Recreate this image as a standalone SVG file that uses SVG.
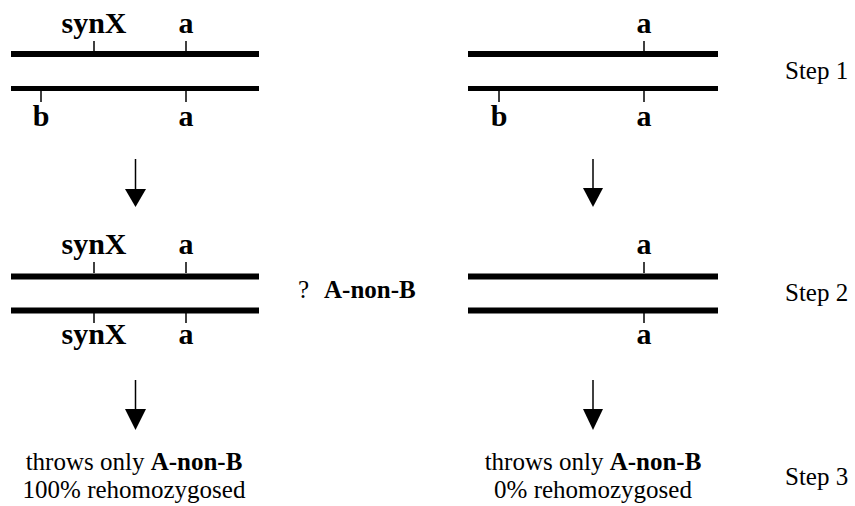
<svg xmlns="http://www.w3.org/2000/svg" width="855" height="506" viewBox="0 0 855 506">
<rect width="855" height="506" fill="#fff"/>
<g id="step1-left">
<g stroke="#000" fill="none">
<line stroke-width="6" x1="11" y1="54" x2="259" y2="54"/>
<line stroke-width="5" x1="11" y1="88.5" x2="259" y2="88.5"/>
<line stroke-width="1.5" x1="94" y1="41" x2="94" y2="51"/>
<line stroke-width="1.5" x1="186" y1="41" x2="186" y2="51"/>
<line stroke-width="1.5" x1="41" y1="91" x2="41" y2="102"/>
<line stroke-width="1.5" x1="186" y1="91" x2="186" y2="102"/>
</g>
<text font-family="Liberation Serif" font-weight="bold" font-size="30" x="94" y="33" text-anchor="middle">synX</text>
<text font-family="Liberation Serif" font-weight="bold" font-size="30" x="186" y="33" text-anchor="middle">a</text>
<text font-family="Liberation Serif" font-weight="bold" font-size="30" x="41" y="126" text-anchor="middle">b</text>
<text font-family="Liberation Serif" font-weight="bold" font-size="30" x="186" y="126" text-anchor="middle">a</text>
</g>
<g id="step1-right">
<g stroke="#000" fill="none">
<line stroke-width="6" x1="468" y1="54" x2="718" y2="54"/>
<line stroke-width="5" x1="468" y1="88.5" x2="718" y2="88.5"/>
<line stroke-width="1.5" x1="644" y1="41" x2="644" y2="51"/>
<line stroke-width="1.5" x1="499" y1="91" x2="499" y2="102"/>
<line stroke-width="1.5" x1="644" y1="91" x2="644" y2="102"/>
</g>
<text font-family="Liberation Serif" font-weight="bold" font-size="30" x="644" y="33" text-anchor="middle">a</text>
<text font-family="Liberation Serif" font-weight="bold" font-size="30" x="499" y="126" text-anchor="middle">b</text>
<text font-family="Liberation Serif" font-weight="bold" font-size="30" x="644" y="126" text-anchor="middle">a</text>
</g>
<g id="step2-left">
<g stroke="#000" fill="none">
<line stroke-width="6" x1="11" y1="276.5" x2="259" y2="276.5"/>
<line stroke-width="6" x1="11" y1="310.5" x2="259" y2="310.5"/>
<line stroke-width="1.5" x1="94" y1="262" x2="94" y2="273"/>
<line stroke-width="1.5" x1="186" y1="262" x2="186" y2="273"/>
<line stroke-width="1.5" x1="94" y1="313" x2="94" y2="323"/>
<line stroke-width="1.5" x1="186" y1="313" x2="186" y2="323"/>
</g>
<text font-family="Liberation Serif" font-weight="bold" font-size="30" x="94" y="254" text-anchor="middle">synX</text>
<text font-family="Liberation Serif" font-weight="bold" font-size="30" x="186" y="254" text-anchor="middle">a</text>
<text font-family="Liberation Serif" font-weight="bold" font-size="30" x="94" y="344" text-anchor="middle">synX</text>
<text font-family="Liberation Serif" font-weight="bold" font-size="30" x="186" y="344" text-anchor="middle">a</text>
</g>
<g id="question">
<text font-family="Liberation Serif" font-size="25" x="298" y="298">?</text>
<text font-family="Liberation Serif" font-weight="bold" font-size="25" x="324" y="298">A-non-B</text>
</g>
<g id="step2-right">
<g stroke="#000" fill="none">
<line stroke-width="6" x1="468" y1="276.5" x2="718" y2="276.5"/>
<line stroke-width="6" x1="468" y1="310.5" x2="718" y2="310.5"/>
<line stroke-width="1.5" x1="644" y1="262" x2="644" y2="273"/>
<line stroke-width="1.5" x1="644" y1="313" x2="644" y2="323"/>
</g>
<text font-family="Liberation Serif" font-weight="bold" font-size="30" x="644" y="254" text-anchor="middle">a</text>
<text font-family="Liberation Serif" font-weight="bold" font-size="30" x="644" y="344" text-anchor="middle">a</text>
</g>
<g id="result-left">
<text font-family="Liberation Serif" font-size="25" x="134" y="470" text-anchor="middle">throws only <tspan font-weight="bold">A-non-B</tspan></text>
<text font-family="Liberation Serif" font-size="25" x="134" y="498" text-anchor="middle">100% rehomozygosed</text>
</g>
<g id="result-right">
<text font-family="Liberation Serif" font-size="25" x="593" y="470" text-anchor="middle">throws only <tspan font-weight="bold">A-non-B</tspan></text>
<text font-family="Liberation Serif" font-size="25" x="593" y="498" text-anchor="middle">0% rehomozygosed</text>
</g>
<g id="steps">
<text font-family="Liberation Serif" font-size="25" x="785" y="79">Step 1</text>
<text font-family="Liberation Serif" font-size="25" x="785" y="301">Step 2</text>
<text font-family="Liberation Serif" font-size="25" x="785" y="485">Step 3</text>
</g>
<g id="connectors">
<g stroke="#000" stroke-width="1.5" fill="none">
<line x1="135.5" y1="159" x2="135.5" y2="190"/>
<line x1="135.5" y1="380" x2="135.5" y2="410"/>
<line x1="593" y1="159" x2="593" y2="189"/>
<line x1="593" y1="380" x2="593" y2="410"/>
</g>
<g fill="#000">
<polygon points="125,189 146,189 135.5,207"/>
<polygon points="125,409 146,409 135.5,430"/>
<polygon points="583,188 603,188 593,207"/>
<polygon points="583,409 603,409 593,430"/>
</g>
</g>
</svg>
